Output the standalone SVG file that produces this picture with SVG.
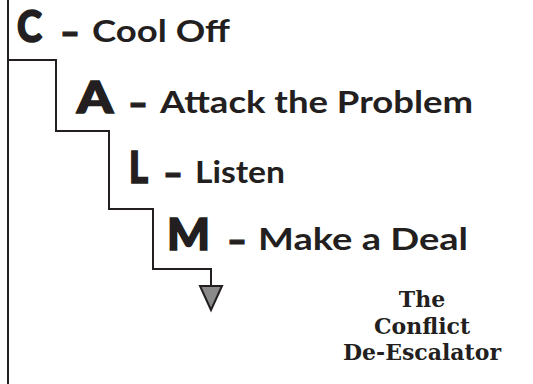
<svg xmlns="http://www.w3.org/2000/svg" width="533" height="384" viewBox="0 0 533 384">
<style>
.big{font-family:Lato,"Liberation Sans",sans-serif;font-weight:900;font-size:43px;fill:#231f20;stroke:#231f20;stroke-width:1.6}
.dash{font-family:Lato,"Liberation Sans",sans-serif;font-weight:900;font-size:40px;fill:#231f20;stroke:#231f20;stroke-width:1.2}
.lbl{font-family:Lato,"Liberation Sans",sans-serif;font-weight:700;font-size:31px;fill:#231f20}
.sub{font-family:"DejaVu Serif","Liberation Serif",serif;font-weight:bold;font-size:22px;fill:#231f20;text-anchor:middle}
.ln{fill:none;stroke:#231f20;stroke-width:2}
</style>
<rect width="533" height="384" fill="#fff"/>
<g id="connectors">
<path class="ln" d="M8,0 V384"/>
<path class="ln" d="M8,60 H56 V131 H109 V209 H153 V269 H211 V286"/>
<polygon points="200,286 222,286 211,310" fill="#8a8a8a" stroke="#231f20" stroke-width="2" stroke-linejoin="miter"/>
</g>
<g id="step-c">
<text y="42"><tspan class="big" x="17" textLength="25" lengthAdjust="spacingAndGlyphs">C</tspan> <tspan class="dash" x="60" dy="4" textLength="20" lengthAdjust="spacingAndGlyphs">–</tspan> <tspan class="lbl" x="92" dy="-4" textLength="138" lengthAdjust="spacingAndGlyphs">Cool Off</tspan></text>
</g>
<g id="step-a">
<text y="113"><tspan class="big" x="77" textLength="36" lengthAdjust="spacingAndGlyphs">A</tspan> <tspan class="dash" x="128" dy="4" textLength="20" lengthAdjust="spacingAndGlyphs">–</tspan> <tspan class="lbl" x="160" dy="-4" textLength="313" lengthAdjust="spacingAndGlyphs">Attack the Problem</tspan></text>
</g>
<g id="step-l">
<text y="183"><tspan class="big" x="129" textLength="19" lengthAdjust="spacingAndGlyphs">L</tspan> <tspan class="dash" x="163" dy="4" textLength="20" lengthAdjust="spacingAndGlyphs">–</tspan> <tspan class="lbl" x="195" dy="-4" textLength="90" lengthAdjust="spacingAndGlyphs">Listen</tspan></text>
</g>
<g id="step-m">
<text y="250"><tspan class="big" x="167" textLength="43" lengthAdjust="spacingAndGlyphs">M</tspan> <tspan class="dash" x="227" dy="4" textLength="20" lengthAdjust="spacingAndGlyphs">–</tspan> <tspan class="lbl" x="258" dy="-4" textLength="210" lengthAdjust="spacingAndGlyphs">Make a Deal</tspan></text>
</g>
<g id="title">
<text class="sub" x="422" y="307">The</text>
<text class="sub" x="422" y="334">Conflict</text>
<text class="sub" x="422" y="360">De-Escalator</text>
</g>
</svg>
